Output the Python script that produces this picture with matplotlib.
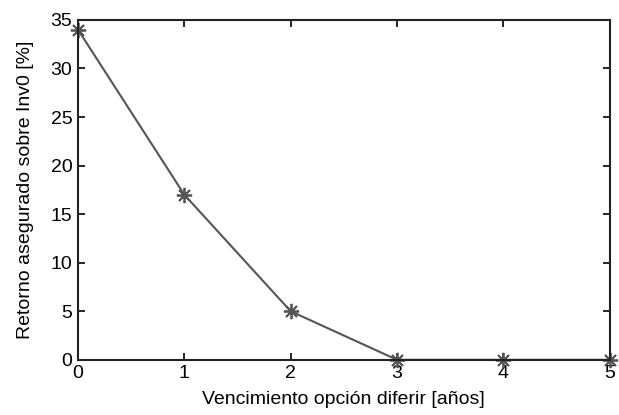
import matplotlib.pyplot as plt

plt.rcParams['font.family'] = ['Liberation Sans', 'DejaVu Sans']

# vencimiento de la opcion (años) y retorno asegurado (%)
anios = [0, 1, 2, 3, 4, 5]
retorno = [34, 17, 5, 0, 0, 0]

fig = plt.figure(figsize=(6.19, 4.15), dpi=100)
ax = fig.add_axes([0.126, 0.133, 0.859, 0.819])

ax.plot(anios, retorno, color='#555555', linewidth=1.5,
        marker=(8, 2, 0), markersize=11, markeredgewidth=1.3, clip_on=False)

ax.set_xlim(0, 5)
ax.set_ylim(0, 35)
ax.set_xticks(range(0, 6))
ax.set_yticks(range(0, 36, 5))
ax.tick_params(direction='in', top=True, right=True, length=5, width=1.2,
               labelsize=14, pad=4)
for s in ax.spines.values():
    s.set_linewidth(1.5)
    s.set_color('#222222')

ax.set_xlabel('Vencimiento opción diferir [años]', fontsize=14, labelpad=6)
ax.set_ylabel('Retorno asegurado sobre Inv0 [%]', fontsize=14, labelpad=12)

fig.savefig('out.png', dpi=100)
